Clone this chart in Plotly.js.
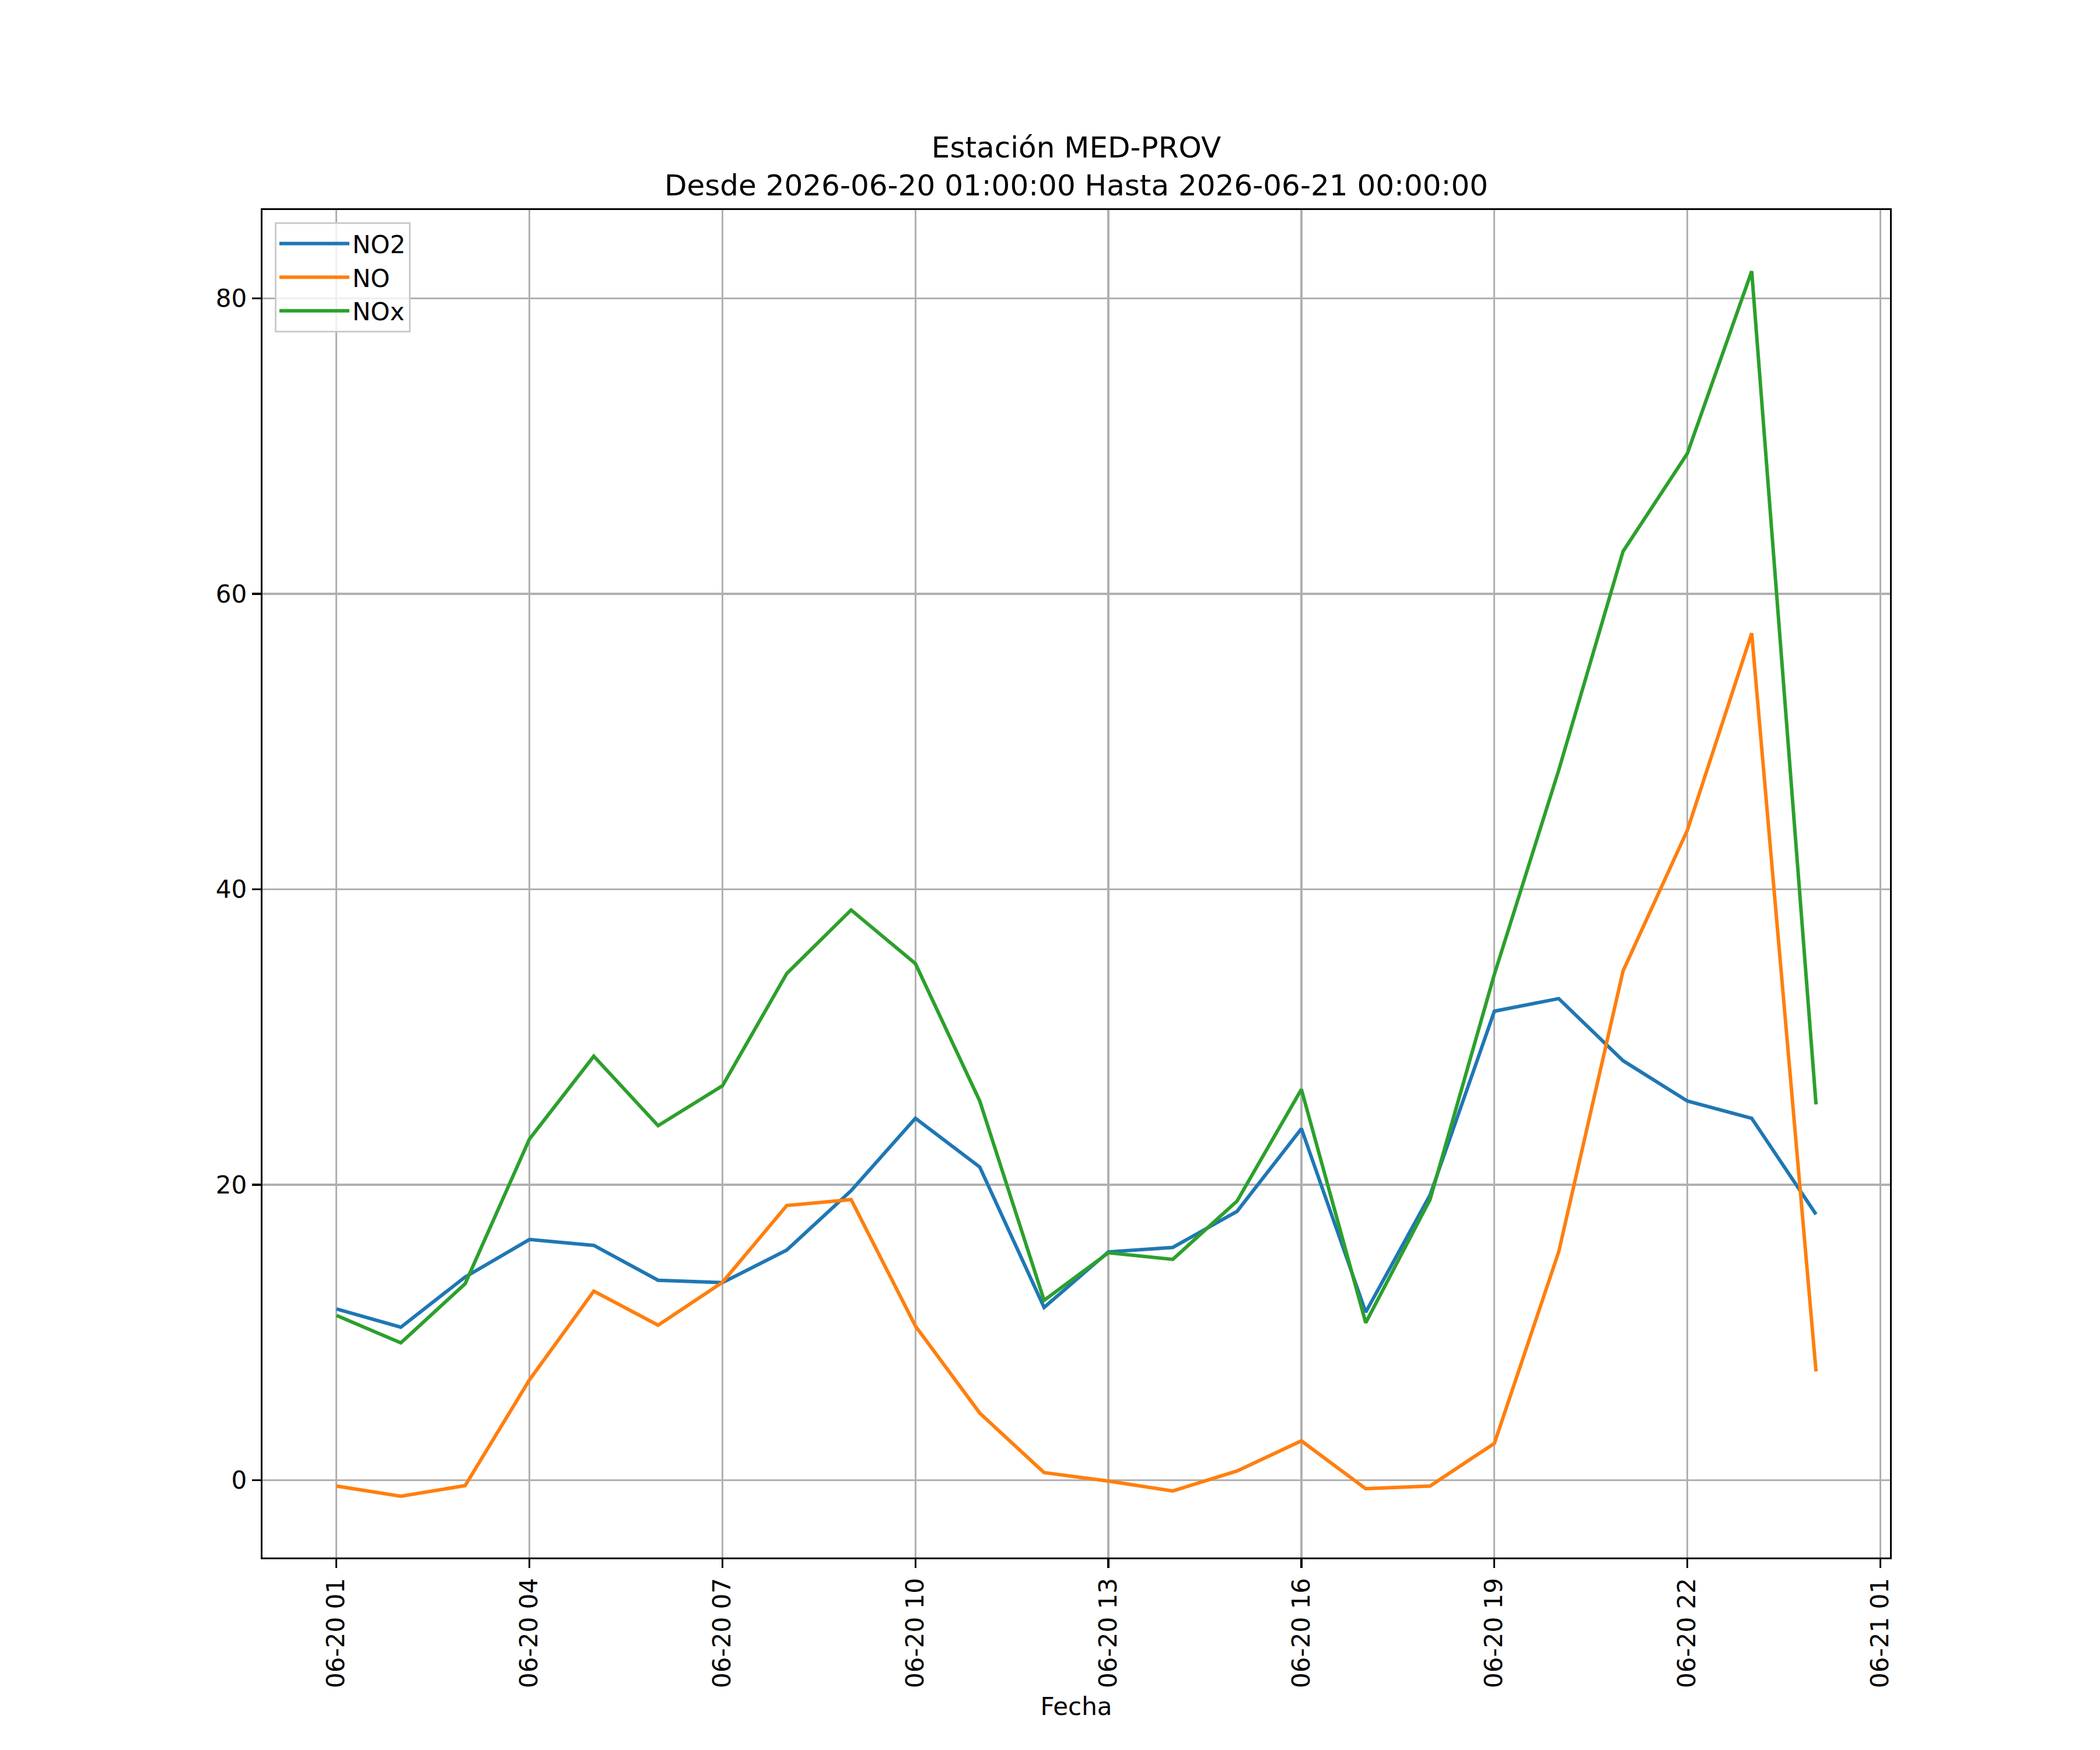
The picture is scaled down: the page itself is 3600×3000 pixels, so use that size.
<!DOCTYPE html>
<html>
<head>
<meta charset="utf-8">
<script src="https://cdn.plot.ly/plotly-3.0.1.min.js"></script>
<style>
  html, body { margin: 0; padding: 0; background: #ffffff; }
  #chart { width: 3600px; height: 3000px; }
</style>
</head>
<body>
<div id="chart"></div>
<script>
// hourly timestamps
const fechas = [
  '2026-06-20 01:00', '2026-06-20 02:00', '2026-06-20 03:00', '2026-06-20 04:00',
  '2026-06-20 05:00', '2026-06-20 06:00', '2026-06-20 07:00', '2026-06-20 08:00',
  '2026-06-20 09:00', '2026-06-20 10:00', '2026-06-20 11:00', '2026-06-20 12:00',
  '2026-06-20 13:00', '2026-06-20 14:00', '2026-06-20 15:00', '2026-06-20 16:00',
  '2026-06-20 17:00', '2026-06-20 18:00', '2026-06-20 19:00', '2026-06-20 20:00',
  '2026-06-20 21:00', '2026-06-20 22:00', '2026-06-20 23:00', '2026-06-21 00:00'
];

const no2 = [11.6, 10.36, 13.76, 16.3, 15.9, 13.54, 13.38, 15.58, 19.6, 24.5, 21.2, 11.7,
  15.46, 15.76, 18.2, 23.8, 11.38, 19.3, 31.75, 32.6, 28.4, 25.67, 24.5, 18.0];

const no = [-0.39, -1.08, -0.36, 6.8, 12.8, 10.5, 13.4, 18.6, 19.0, 10.44, 4.55, 0.52,
  -0.05, -0.72, 0.63, 2.67, -0.57, -0.39, 2.5, 15.46, 34.47, 44.0, 57.33, 7.37];

const nox = [11.16, 9.3, 13.3, 23.1, 28.7, 24.0, 26.7, 34.3, 38.6, 34.97, 25.67, 12.18,
  15.4, 14.95, 18.9, 26.46, 10.66, 19.0, 34.25, 48.06, 62.87, 69.5, 81.83, 25.44];

const seriesNames = ['NO2', 'NO', 'NOx'];
const seriesColors = ['#1f77b4', '#ff7f0e', '#2ca02c'];

const titleText = 'Estación MED-PROV<br>Desde 2026-06-20 01:00:00 Hasta 2026-06-21 00:00:00';

// matplotlib-like 5% margins on y
const allVals = no2.concat(no, nox);
const yMin = Math.min(...allVals);
const yMax = Math.max(...allVals);
const yPad = (yMax - yMin) * 0.05;

const LW = 3.3;
const FONT = 'DejaVu Sans, sans-serif';

const traces = [no2, no, nox].map((vals, i) => ({
  x: fechas,
  y: vals,
  type: 'scatter',
  mode: 'lines',
  name: seriesNames[i],
  line: { color: seriesColors[i], width: 6 }
}));

const axisCommon = {
  showline: true,
  linecolor: '#000000',
  linewidth: LW,
  mirror: true,
  ticks: 'outside',
  ticklen: 15,
  tickwidth: LW,
  tickcolor: '#000000',
  showgrid: true,
  gridcolor: '#b0b0b0',
  gridwidth: LW,
  zeroline: false,
  tickfont: { family: FONT, size: 42, color: '#000000' }
};

const layout = {
  width: 3600,
  height: 3000,
  margin: { l: 450, r: 360, t: 360, b: 330 },
  paper_bgcolor: '#ffffff',
  plot_bgcolor: '#ffffff',
  font: { family: FONT, size: 42, color: '#000000' },
  title: {
    text: titleText,
    font: { family: FONT, size: 50, color: '#000000' },
    x: 0.5,
    xref: 'paper',
    xanchor: 'center',
    y: 1,
    yref: 'paper',
    yanchor: 'bottom',
    pad: { b: 90 }
  },
  xaxis: Object.assign({}, axisCommon, {
    type: 'date',
    range: ['2026-06-19 23:51', '2026-06-21 01:09'],
    tick0: '2026-06-20 01:00',
    dtick: 3 * 3600 * 1000,
    tickformat: '%m-%d %H',
    tickangle: -90,
    automargin: false,
    title: { text: 'Fecha', font: { family: FONT, size: 42, color: '#000000' }, standoff: 18 }
  }),
  yaxis: Object.assign({}, axisCommon, {
    range: [yMin - yPad, yMax + yPad],
    tick0: 0,
    dtick: 20,
    automargin: false
  }),
  showlegend: true,
  legend: {
    x: 0.0075,
    y: 0.991,
    xanchor: 'left',
    yanchor: 'top',
    bgcolor: 'rgba(255,255,255,0.8)',
    bordercolor: '#cccccc',
    borderwidth: 3,
    font: { family: FONT, size: 42, color: '#000000' },
    itemwidth: 120,
    tracegroupgap: 0
  }
};

Plotly.newPlot('chart', traces, layout, { displayModeBar: false, staticPlot: true });
</script>
</body>
</html>
